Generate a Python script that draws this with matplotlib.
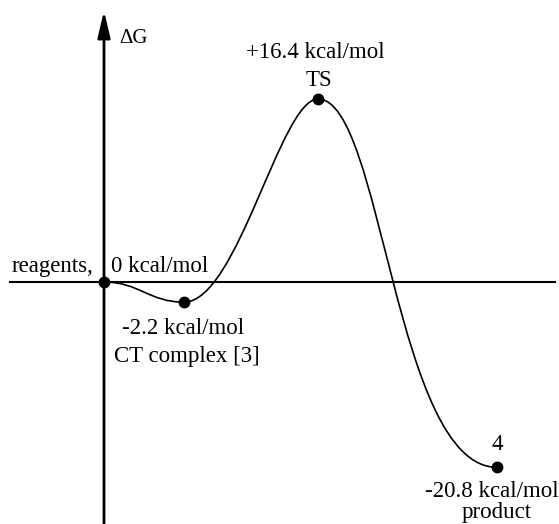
import matplotlib
matplotlib.use("Agg")
import matplotlib.pyplot as plt
from matplotlib.path import Path
from matplotlib.patches import PathPatch

# stationary points along the reaction coordinate (schematic)
state_names    = ["reagents,", "CT complex [3]", "TS", "4"]
energy_labels  = ["0 kcal/mol", "-2.2 kcal/mol", "+16.4 kcal/mol", "-20.8 kcal/mol"]
reaction_coord = [0.0, 0.80, 2.14, 3.93]
drawn_level    = [0.0, -1.8, 16.4, -16.6]

# bezier handle length (fraction of segment width) leaving / entering each point
handle_out = [0.44, 0.40, 0.36]
handle_in  = [0.44, 0.28, 0.57]

plt.rcParams["font.family"] = ["Liberation Serif", "DejaVu Serif"]

fig = plt.figure(figsize=(5.59, 5.24), dpi=100)
ax = fig.add_axes([0, 0, 1, 1])
ax.set_xlim(-1.04, 4.55)
ax.set_ylim(-21.68, 25.27)
ax.axis("off")

# horizontal zero line
ax.axhline(0, xmin=0.018, xmax=0.993, color="black", lw=1.5, zorder=1)

# vertical dG axis with arrow
ax.annotate("", xy=(reaction_coord[0], 24.3), xytext=(reaction_coord[0], -21.68),
            arrowprops=dict(arrowstyle="-|>,head_length=1.6,head_width=0.38",
                            mutation_scale=10, lw=2, color="black",
                            shrinkA=0, shrinkB=0), zorder=2)
ax.text(0.213, 0.918, "\u0394G", transform=ax.transAxes, fontsize=15,
        ha="left", va="baseline")

# smooth energy profile: cubic beziers with flat tangents at each stationary point
verts = [(reaction_coord[0], drawn_level[0])]
codes = [Path.MOVETO]
for i in range(len(reaction_coord) - 1):
    x0, y0 = reaction_coord[i], drawn_level[i]
    x1, y1 = reaction_coord[i + 1], drawn_level[i + 1]
    dx = x1 - x0
    verts += [(x0 + handle_out[i] * dx, y0), (x1 - handle_in[i] * dx, y1), (x1, y1)]
    codes += [Path.CURVE4] * 3
ax.add_patch(PathPatch(Path(verts, codes), facecolor="none", edgecolor="black",
                       lw=1.2, zorder=3))

ax.plot(reaction_coord, drawn_level, "o", color="black", ms=7.5, zorder=4)

fs = 16.5
def lab(i, txt, dx, dy, ha="center"):
    ax.annotate(txt, (reaction_coord[i], drawn_level[i]), xytext=(dx, dy),
                textcoords="offset pixels", ha=ha, va="baseline", fontsize=fs)

# reagents
lab(0, state_names[0], -11, 10, ha="right")
lab(0, energy_labels[0], 7, 10, ha="left")
# CT complex
lab(1, energy_labels[1], -1, -32)
lab(1, state_names[1], 3, -60)
# TS
lab(2, energy_labels[2], -3, 41)
lab(2, state_names[2], 1, 13)
# product
lab(3, state_names[3], 0, 17)
lab(3, energy_labels[3], -5, -30)
lab(3, "product", 0, -51)

fig.savefig("out.png", dpi=100)
